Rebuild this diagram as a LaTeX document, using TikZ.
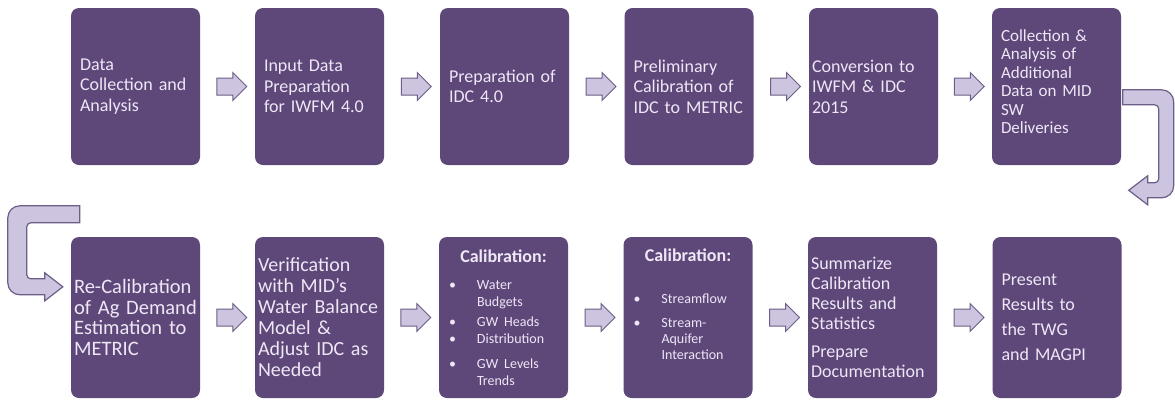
\documentclass[tikz,border=0pt]{standalone}
\usepackage{fontspec}
\setmainfont{Carlito}
\usetikzlibrary{shapes.arrows,calc}

\definecolor{boxfill}{RGB}{94,71,121}
\definecolor{boxtext}{RGB}{238,231,246}
\definecolor{arrowfill}{RGB}{205,196,224}
\definecolor{arrowline}{RGB}{108,94,134}

\newcommand{\calitem}[1]{\par\hspace*{1pt}\makebox[28pt][l]{\textbullet}\parbox[t]{80pt}{\raggedright #1}}

\begin{document}
\begin{tikzpicture}[x=1pt,y=-1pt,
    box/.style={rectangle,fill=boxfill,text=boxtext,rounded corners=8pt,
        minimum width=129pt,minimum height=157pt,inner xsep=9pt,
        text width=111pt,align=left,font=\fontsize{18}{20.5}\selectfont},
    wide/.style={inner xsep=3pt,text width=123pt},
    tall/.style={minimum height=161pt},
    fatarrow/.style={single arrow,draw=arrowline,fill=arrowfill,line width=1pt,
        minimum height=30pt,text height=0pt,text depth=0pt,inner xsep=0pt,
        inner ysep=8pt,single arrow head extend=5.5pt,
        single arrow head indent=0pt},
    uturn/.style={draw=arrowline,fill=arrowfill,line width=1.2pt}]
    \fill[white] (0,0) rectangle (1175,400);
    \useasboundingbox (0,0) rectangle (1175,400);

    % top row
    \node[box] (1) at (135.5,86.5) {Data\\Collection and\\Analysis};
    \node[box] (2) at (319.5,86.5) {Input Data\\Preparation\\for IWFM 4.0};
    \node[box] (3) at (504.5,86.5) {Preparation of\\IDC 4.0};
    \node[box] (4) at (689,86.5) {Preliminary\\Calibration of\\IDC to METRIC};
    \node[box,wide] (5) at (873.5,86.5) {Conversion to\\IWFM \& IDC\\2015};
    \node[box,font=\fontsize{17}{18.5}\selectfont] (6) at (1056.5,86.5)
        {Collection \&\\Analysis of\\Additional\\Data on MID\\SW\\Deliveries\par\vspace*{10pt}};

    % bottom row
    \node[box,tall,wide,font=\fontsize{20.5}{20.5}\selectfont] (7) at (135.5,317.5)
        {Re-Calibration\\of Ag Demand\\Estimation to\\METRIC};
    \node[box,tall,wide,font=\fontsize{20}{21}\selectfont] (8) at (319.5,317.5)
        {Verification\\with MID’s\\Water Balance\\Model \&\\Adjust IDC as\\Needed};
    \node[box,tall] (9) at (503.5,317.5) {%
        {\centering\bfseries Calibration:\par}\vspace{10pt}
        {\fontsize{14}{17}\selectfont
        \calitem{Water\\Budgets}\par\vspace{7pt}
        \calitem{GW Heads}\par
        \calitem{Distribution}\par\vspace{8pt}
        \calitem{GW Levels\\Trends}\par}};
    \node[box,tall] (10) at (688,317.5) {%
        {\centering\bfseries Calibration:\par}\vspace{26pt}
        {\fontsize{14}{16}\selectfont
        \calitem{Streamflow}\par\vspace{8pt}
        \calitem{Stream-\\Aquifer\\Interaction}\par}\vspace*{27pt}};
    \node[box,tall,wide,font=\fontsize{18}{20}\selectfont] (11) at (872.5,317.5)
        {Summarize\\Calibration\\Results and\\Statistics\\[8pt]Prepare\\Documentation};
    \node[box,tall,font=\fontsize{18}{25}\selectfont] (12) at (1057,317.5)
        {Present\\Results to\\the TWG\\and MAGPI};

    % arrows between boxes
    \node[fatarrow] (a12) at ($(1.east)!0.5!(2.west)$) {};
    \node[fatarrow] (a23) at ($(2.east)!0.5!(3.west)$) {};
    \node[fatarrow] (a34) at ($(3.east)!0.5!(4.west)$) {};
    \node[fatarrow] (a45) at ($(4.east)!0.5!(5.west)$) {};
    \node[fatarrow] (a56) at ($(5.east)!0.5!(6.west)$) {};
    \node[fatarrow] (a78) at ($(7.east)!0.5!(8.west)$) {};
    \node[fatarrow] (a89) at ($(8.east)!0.5!(9.west)$) {};
    \node[fatarrow] (a910) at ($(9.east)!0.5!(10.west)$) {};
    \node[fatarrow] (a1011) at ($(10.east)!0.5!(11.west)$) {};
    \node[fatarrow] (a1112) at ($(11.east)!0.5!(12.west)$) {};

    % turn from the top row down to the bottom row
    \begin{scope}[shift={(6.north east)}]
        \draw[uturn] (1.5,82) [rounded corners=12pt] -- (52.5,82) -- (52.5,190)
            [sharp corners] -- (26.5,190) -- (26.5,197) -- (7.5,182.5) -- (26.5,168)
            -- (26.5,175) [rounded corners=4pt] -- (37.5,175) -- (37.5,97)
            [sharp corners] -- (1.5,97) -- cycle;
    \end{scope}
    \begin{scope}[shift={(7.north west)}]
        \draw[uturn] (9,-31) [rounded corners=12pt] -- (-63,-31) -- (-63,58)
            [sharp corners] -- (-26,58) -- (-26,64) -- (-8,50) -- (-26,36)
            -- (-26,42) [rounded corners=4pt] -- (-44,42) -- (-44,-14)
            [sharp corners] -- (9,-14) -- cycle;
    \end{scope}
\end{tikzpicture}
\end{document}
